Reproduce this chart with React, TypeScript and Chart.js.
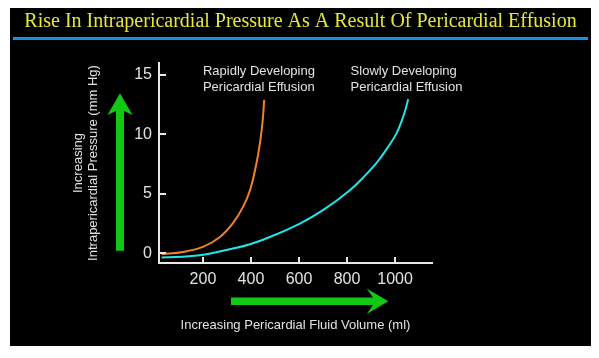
import React, { useEffect, useRef } from "react";
import { Chart, registerables } from "chart.js";

Chart.register(...registerables);

const TITLE = "Rise In Intrapericardial Pressure As A Result Of Pericardial Effusion";
const X_TITLE = "Increasing Pericardial Fluid Volume (ml)";
const Y_TITLE = ["Increasing", "Intrapericardial Pressure (mm Hg)"];

const X_TICKS = [200, 400, 600, 800, 1000];
const Y_TICKS = [0, 5, 10, 15];

// Rapidly developing effusion (ml, mm Hg)
const RAPID_X = [28, 117, 200, 271, 325, 367, 396, 420, 437.5, 449, 455];
const RAPID_Y = [-0.08, 0.11, 0.53, 1.37, 2.53, 3.9, 5.3, 7.27, 9.27, 11.2, 12.9];

// Slowly developing effusion (ml, mm Hg)
const SLOW_X = [28, 187, 325, 396, 479, 604, 700, 812, 875, 929, 971, 1004, 1029, 1044, 1055];
const SLOW_Y = [-0.36, -0.17, 0.4, 0.76, 1.37, 2.5, 3.62, 5.3, 6.53, 7.75, 8.95, 10.0, 11.2, 12.13, 12.95];

const RAPID_LABEL = ["Rapidly Developing", "Pericardial Effusion"];
const SLOW_LABEL = ["Slowly Developing", "Pericardial Effusion"];
// label anchor in data units (left edge x, first line y)
const RAPID_LABEL_AT = [200, 15.27];
const SLOW_LABEL_AT = [815, 15.27];

const ORANGE = "#f5802a";
const CYAN = "#1ee6ec";
const GREEN = "#12c812";
const AXIS = "#e8e8e8";
const TEXT = "#e2e2e2";
const SANS = "'Liberation Sans', Arial, Helvetica, sans-serif";

const decor = {
  id: "decor",
  afterDraw(chart: any) {
    const { ctx, chartArea: ca, width } = chart;
    const xs = chart.scales.x;
    const ys = chart.scales.y;
    ctx.save();

    // Title
    ctx.fillStyle = "#e6e63c";
    ctx.font = "20px 'Liberation Serif', 'Times New Roman', serif";
    ctx.textAlign = "center";
    ctx.textBaseline = "middle";
    ctx.fillText(TITLE, width / 2, 13.5);

    // Blue rule
    ctx.fillStyle = "#1a8fe6";
    ctx.fillRect(3, 29, width - 6, 3);

    // Inward tick marks
    ctx.strokeStyle = AXIS;
    ctx.lineWidth = 2;
    ctx.beginPath();
    for (const v of X_TICKS) {
      const px = Math.round(xs.getPixelForValue(v));
      ctx.moveTo(px, ca.bottom);
      ctx.lineTo(px, ca.bottom - 6);
    }
    for (const v of Y_TICKS) {
      const py = Math.round(ys.getPixelForValue(v));
      ctx.moveTo(ca.left, py);
      ctx.lineTo(ca.left + 7, py);
    }
    ctx.stroke();

    // Curve labels
    ctx.fillStyle = TEXT;
    ctx.font = "13px " + SANS;
    ctx.textAlign = "left";
    ctx.textBaseline = "middle";
    const drawLabel = (lines: string[], at: number[]) => {
      const x = xs.getPixelForValue(at[0]);
      const y = ys.getPixelForValue(at[1]);
      lines.forEach((l, i) => ctx.fillText(l, x, y + i * 15.8));
    };
    drawLabel(RAPID_LABEL, RAPID_LABEL_AT);
    drawLabel(SLOW_LABEL, SLOW_LABEL_AT);

    // Green arrows
    ctx.fillStyle = GREEN;
    // vertical
    const vx = ca.left - 39;
    const vTip = ca.top + 30.3;
    const vWing = ca.top + 52;
    const vJoin = ca.top + 48;
    const vBot = ca.bottom - 12.3;
    ctx.beginPath();
    ctx.moveTo(vx, vTip);
    ctx.lineTo(vx + 12.5, vWing);
    ctx.lineTo(vx + 4, vJoin);
    ctx.lineTo(vx + 4, vBot);
    ctx.lineTo(vx - 4, vBot);
    ctx.lineTo(vx - 4, vJoin);
    ctx.lineTo(vx - 12.5, vWing);
    ctx.closePath();
    ctx.fill();
    // horizontal
    const hy = ca.bottom + 38.3;
    const hStart = ca.left + 72;
    const hTip = ca.left + 229.3;
    const hWing = ca.left + 207.7;
    const hJoin = ca.left + 214;
    ctx.beginPath();
    ctx.moveTo(hTip, hy);
    ctx.lineTo(hWing, hy - 12.7);
    ctx.lineTo(hJoin, hy - 3.7);
    ctx.lineTo(hStart, hy - 3.7);
    ctx.lineTo(hStart, hy + 3.7);
    ctx.lineTo(hJoin, hy + 3.7);
    ctx.lineTo(hWing, hy + 12.7);
    ctx.closePath();
    ctx.fill();

    ctx.restore();
  },
};

export default function App() {
  const ref = useRef<HTMLCanvasElement | null>(null);

  useEffect(() => {
    if (!ref.current) return;
    const chart = new Chart(ref.current, {
      type: "line",
      data: {
        datasets: [
          {
            label: "Rapidly Developing Pericardial Effusion",
            data: RAPID_X.map((x, i) => ({ x, y: RAPID_Y[i] })),
            borderColor: ORANGE,
            borderWidth: 2,
            pointRadius: 0,
            tension: 0.4,
            fill: false,
          },
          {
            label: "Slowly Developing Pericardial Effusion",
            data: SLOW_X.map((x, i) => ({ x, y: SLOW_Y[i] })),
            borderColor: CYAN,
            borderWidth: 2,
            pointRadius: 0,
            tension: 0.4,
            fill: false,
          },
        ],
      },
      options: {
        animation: false,
        responsive: false,
        devicePixelRatio: 1,
        layout: { padding: { left: 0, top: 55, right: 159, bottom: 0 } },
        plugins: {
          legend: { display: false },
          tooltip: { enabled: false },
          title: { display: false },
        },
        scales: {
          x: {
            type: "linear",
            min: 17,
            max: 1154,
            grid: { display: false, drawTicks: false },
            border: { display: true, color: AXIS, width: 2 },
            afterBuildTicks: (s: any) => {
              s.ticks = X_TICKS.map((v) => ({ value: v }));
            },
            afterFit: (s: any) => {
              s.height = 83;
            },
            ticks: {
              color: TEXT,
              padding: 7,
              maxRotation: 0,
              autoSkip: false,
              font: { family: SANS, size: 16 },
              callback: (v: any) => String(v),
            },
            title: {
              display: true,
              text: X_TITLE,
              color: TEXT,
              font: { family: SANS, size: 13, lineHeight: 1.2 },
              padding: { top: 0, bottom: 13 },
            },
          },
          y: {
            type: "linear",
            min: -0.82,
            max: 16,
            grid: { display: false, drawTicks: false },
            border: { display: true, color: AXIS, width: 2 },
            afterBuildTicks: (s: any) => {
              s.ticks = Y_TICKS.map((v) => ({ value: v }));
            },
            afterFit: (s: any) => {
              s.width = 149;
            },
            ticks: {
              color: TEXT,
              padding: 7,
              autoSkip: false,
              font: { family: SANS, size: 16 },
              callback: (v: any) => String(v),
            },
            title: {
              display: true,
              text: Y_TITLE,
              color: TEXT,
              font: { family: SANS, size: 13, lineHeight: 1.2 },
              padding: { top: 60.2, bottom: 0 },
            },
          },
        },
      },
      plugins: [decor],
    } as any);
    return () => chart.destroy();
  }, []);

  return (
    <div
      style={{
        position: "absolute",
        left: 10,
        top: 8,
        width: 581,
        height: 338,
        background: "#000",
      }}
    >
      <canvas ref={ref} width={581} height={338} style={{ display: "block", width: 581, height: 338 }} />
    </div>
  );
}
